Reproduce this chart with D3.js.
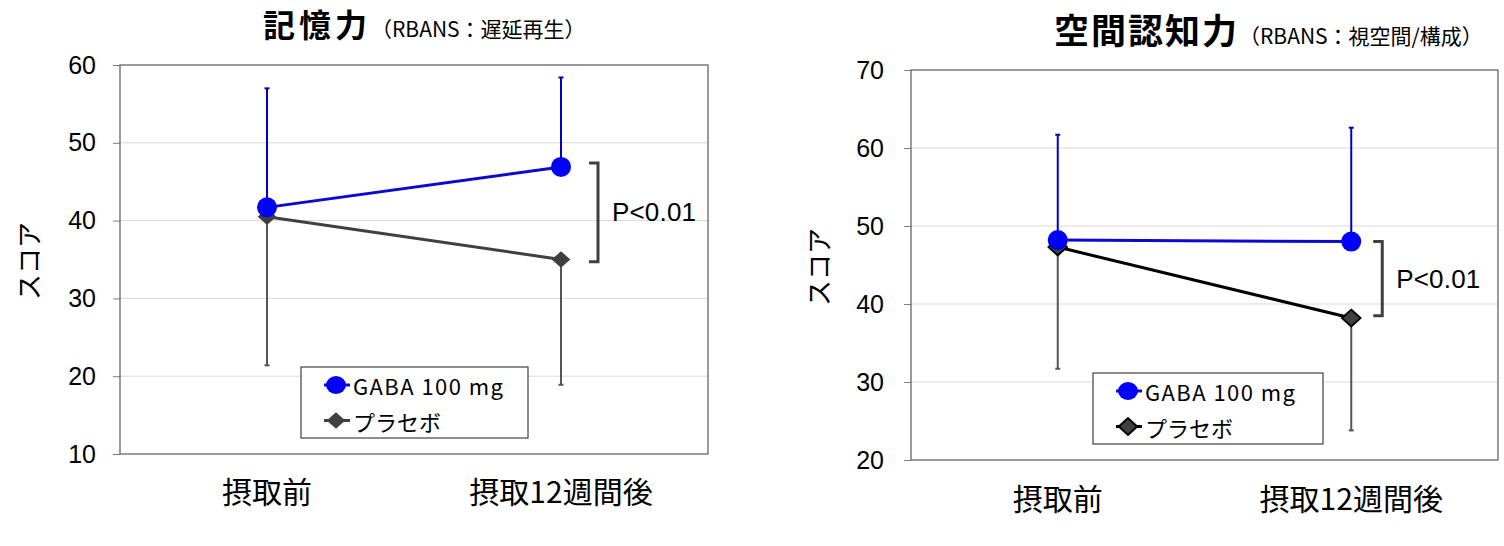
<!DOCTYPE html>
<html><head><meta charset="utf-8">
<script src="https://cdn.jsdelivr.net/npm/d3@7"></script>
<style>
html,body{margin:0;padding:0;background:#fff;}
svg{display:block;}
text{font-family:"Liberation Sans",Arial,sans-serif;}
.jp{font-family:"Noto Sans CJK JP","Noto Sans",sans-serif;}
</style></head>
<body>
<svg id="c" width="1504" height="546"></svg>
<script>
// ---- data ----
const categories = ["摂取前", "摂取12週間後"];
const seriesNames = ["GABA 100 mg", "プラセボ"];
const yLabel = "スコア";
const pLabel = "P<0.01";

// Chart 1: 記憶力 (RBANS: 遅延再生)
const memTitleMain = "記憶力";
const memTitleSub = "（RBANS：遅延再生）";
const memTicks = [10, 20, 30, 40, 50, 60];
const memGaba = [41.7, 46.9];
const memGabaUpper = [57.0, 58.4];
const memPlacebo = [40.5, 35.0];
const memPlaceboLower = [21.4, 18.9];
const memBracket = [47.4, 34.7];

// Chart 2: 空間認知力 (RBANS: 視空間/構成)
const spaTitleMain = "空間認知力";
const spaTitleSub = "（RBANS：視空間/構成）";
const spaTicks = [20, 30, 40, 50, 60, 70];
const spaGaba = [48.2, 48.0];
const spaGabaUpper = [61.7, 62.6];
const spaPlacebo = [47.3, 38.2];
const spaPlaceboLower = [31.7, 23.8];
const spaBracket = [48.0, 38.5];

const svg = d3.select("#c");

function drawChart(cfg) {
  const g = svg.append("g");
  const x = d3.scalePoint().domain(categories).range([cfg.x0, cfg.x1]).padding(0.5);
  const y = d3.scaleLinear().domain([cfg.ticks[0], cfg.ticks[cfg.ticks.length - 1]]).range([cfg.y1, cfg.y0]);

  // gridlines
  g.selectAll("line.grid").data(cfg.ticks.slice(1, -1)).join("line")
    .attr("x1", cfg.x0).attr("x2", cfg.x1)
    .attr("y1", d => y(d)).attr("y2", d => y(d))
    .attr("stroke", "#d9d9d9").attr("stroke-width", 1);

  // y axis
  const ax = g.append("g").attr("transform", `translate(${cfg.x0},0)`)
    .call(d3.axisLeft(y).tickValues(cfg.ticks).tickSize(7).tickPadding(cfg.tickPad).tickFormat(d3.format("d")));
  ax.select(".domain").remove();
  ax.selectAll(".tick line").attr("stroke", "#7f7f7f");
  ax.selectAll(".tick text").attr("font-size", 25).attr("fill", "#000")
    .attr("font-family", "'Liberation Sans',Arial,sans-serif");

  // frame
  g.append("rect").attr("x", cfg.x0).attr("y", cfg.y0)
    .attr("width", cfg.x1 - cfg.x0).attr("height", cfg.y1 - cfg.y0)
    .attr("fill", "none").attr("stroke", "#595959").attr("stroke-width", 1.2);

  // x labels
  g.selectAll("text.xl").data(categories).join("text")
    .attr("class", "jp").attr("x", d => x(d)).attr("y", cfg.xLabelY)
    .attr("text-anchor", "middle").attr("font-size", 30).attr("fill", "#000")
    .text(d => d);

  // y label
  g.append("text").attr("class", "jp")
    .attr("transform", `translate(${cfg.yLabelX},${cfg.yLabelY}) rotate(-90)`)
    .attr("text-anchor", "middle").attr("dominant-baseline", "central")
    .attr("font-size", 26).attr("fill", "#000").text(yLabel);

  // title
  const t = g.append("text").attr("class", "jp").attr("x", cfg.titleX).attr("y", cfg.titleY).attr("fill", "#000");
  t.append("tspan").attr("font-size", cfg.titleSize).attr("font-weight", "bold")
    .attr("letter-spacing", cfg.titleSpacing).text(cfg.titleMain);
  t.append("tspan").attr("font-size", 21).attr("letter-spacing", 0).text(cfg.titleSub);

  // error bars
  const gabaErr = cfg.gaba.map((v, i) => ({ c: categories[i], a: v, b: cfg.gabaUpper[i] }));
  const plErr = cfg.placebo.map((v, i) => ({ c: categories[i], a: v, b: cfg.placeboLower[i] }));
  function errBars(data, color) {
    g.selectAll(null).data(data).join("line")
      .attr("x1", d => x(d.c)).attr("x2", d => x(d.c))
      .attr("y1", d => y(d.a)).attr("y2", d => y(d.b))
      .attr("stroke", color).attr("stroke-width", 2);
    g.selectAll(null).data(data).join("line")
      .attr("x1", d => x(d.c) - 2.5).attr("x2", d => x(d.c) + 2.5)
      .attr("y1", d => y(d.b)).attr("y2", d => y(d.b))
      .attr("stroke", color).attr("stroke-width", 2);
  }
  errBars(gabaErr, "#0000c8");
  errBars(plErr, "#555555");

  // lines
  const line = d3.line().x(d => x(d.c)).y(d => y(d.v));
  const gabaPts = cfg.gaba.map((v, i) => ({ c: categories[i], v }));
  const plPts = cfg.placebo.map((v, i) => ({ c: categories[i], v }));
  g.append("path").datum(plPts).attr("d", line).attr("fill", "none")
    .attr("stroke", cfg.plLine).attr("stroke-width", 3);
  g.append("path").datum(gabaPts).attr("d", line).attr("fill", "none")
    .attr("stroke", "#0a0ad2").attr("stroke-width", 3);

  const diamond = d3.symbol().type(d3.symbolDiamond2).size(220);
  g.selectAll(null).data(plPts).join("path")
    .attr("transform", d => `translate(${x(d.c)},${y(d.v)}) scale(1,0.9)`)
    .attr("d", diamond).attr("fill", "#404040")
    .attr("stroke", cfg.plMarkStroke).attr("stroke-width", cfg.plMarkStrokeW);
  g.selectAll(null).data(gabaPts).join("ellipse")
    .attr("cx", d => x(d.c)).attr("cy", d => y(d.v)).attr("rx", 10).attr("ry", 10)
    .attr("fill", "#0000ff");

  // significance bracket
  const bx = x(categories[1]) + cfg.bracketOffset;
  const bp = d3.path();
  bp.moveTo(bx - 9, y(cfg.bracket[0])); bp.lineTo(bx, y(cfg.bracket[0]));
  bp.lineTo(bx, y(cfg.bracket[1])); bp.lineTo(bx - 9, y(cfg.bracket[1]));
  g.append("path").attr("d", bp.toString()).attr("fill", "none")
    .attr("stroke", "#404040").attr("stroke-width", 3);
  g.append("text").attr("x", bx + 14).attr("y", (y(cfg.bracket[0]) + y(cfg.bracket[1])) / 2)
    .attr("dominant-baseline", "central").attr("font-size", 26).attr("fill", "#000")
    .attr("font-family", "'Open Sans','Liberation Sans',sans-serif")
    .attr("textLength", 84).text(pLabel);

  // legend
  const L = cfg.legend;
  g.append("rect").attr("x", L.x).attr("y", L.y).attr("width", L.w).attr("height", L.h)
    .attr("fill", "#fff").attr("stroke", "#404040").attr("stroke-width", 1.2);
  const rows = [0, 1];
  const mx = L.x + 35;
  g.selectAll(null).data(rows).join("line")
    .attr("x1", mx - 12).attr("x2", mx + 14)
    .attr("y1", d => L.y + 18 + d * 35.5).attr("y2", d => L.y + 18 + d * 35.5)
    .attr("stroke", d => d === 0 ? "#0a0ad2" : cfg.plLine).attr("stroke-width", 3);
  g.append("ellipse").attr("cx", mx).attr("cy", L.y + 18).attr("rx", 10).attr("ry", 9).attr("fill", "#0000ff");
  g.append("path").attr("transform", `translate(${mx},${L.y + 53.5}) scale(1,0.9)`)
    .attr("d", diamond).attr("fill", "#404040")
    .attr("stroke", cfg.plMarkStroke).attr("stroke-width", cfg.plMarkStrokeW);
  g.selectAll(null).data(seriesNames).join("text")
    .attr("class", "jp").attr("x", L.x + 52).attr("y", (d, i) => L.y + 18 + i * 35.5)
    .attr("dominant-baseline", "central").attr("font-size", 22).attr("fill", "#000")
    .attr("textLength", (d, i) => i === 0 ? 150 : null)
    .text(d => d);
}

drawChart({
  x0: 120, x1: 708, y0: 65, y1: 454, ticks: memTicks, tickPad: 17,
  gaba: memGaba, gabaUpper: memGabaUpper, placebo: memPlacebo, placeboLower: memPlaceboLower,
  bracket: memBracket, bracketOffset: 37,
  titleMain: memTitleMain, titleSub: memTitleSub, titleX: 263, titleY: 37, titleSize: 32, titleSpacing: 4,
  xLabelY: 503, yLabelX: 27, yLabelY: 261,
  plLine: "#404040", plMarkStroke: "#404040", plMarkStrokeW: 0,
  legend: { x: 301, y: 367, w: 227, h: 71 }
});
drawChart({
  x0: 911, x1: 1498, y0: 70, y1: 460, ticks: spaTicks, tickPad: 20,
  gaba: spaGaba, gabaUpper: spaGabaUpper, placebo: spaPlacebo, placeboLower: spaPlaceboLower,
  bracket: spaBracket, bracketOffset: 31,
  titleMain: spaTitleMain, titleSub: spaTitleSub, titleX: 1054, titleY: 44, titleSize: 35, titleSpacing: 2,
  xLabelY: 510, yLabelX: 817, yLabelY: 267,
  plLine: "#000000", plMarkStroke: "#000000", plMarkStrokeW: 2,
  legend: { x: 1093, y: 373, w: 230, h: 71 }
});
</script>
</body></html>
